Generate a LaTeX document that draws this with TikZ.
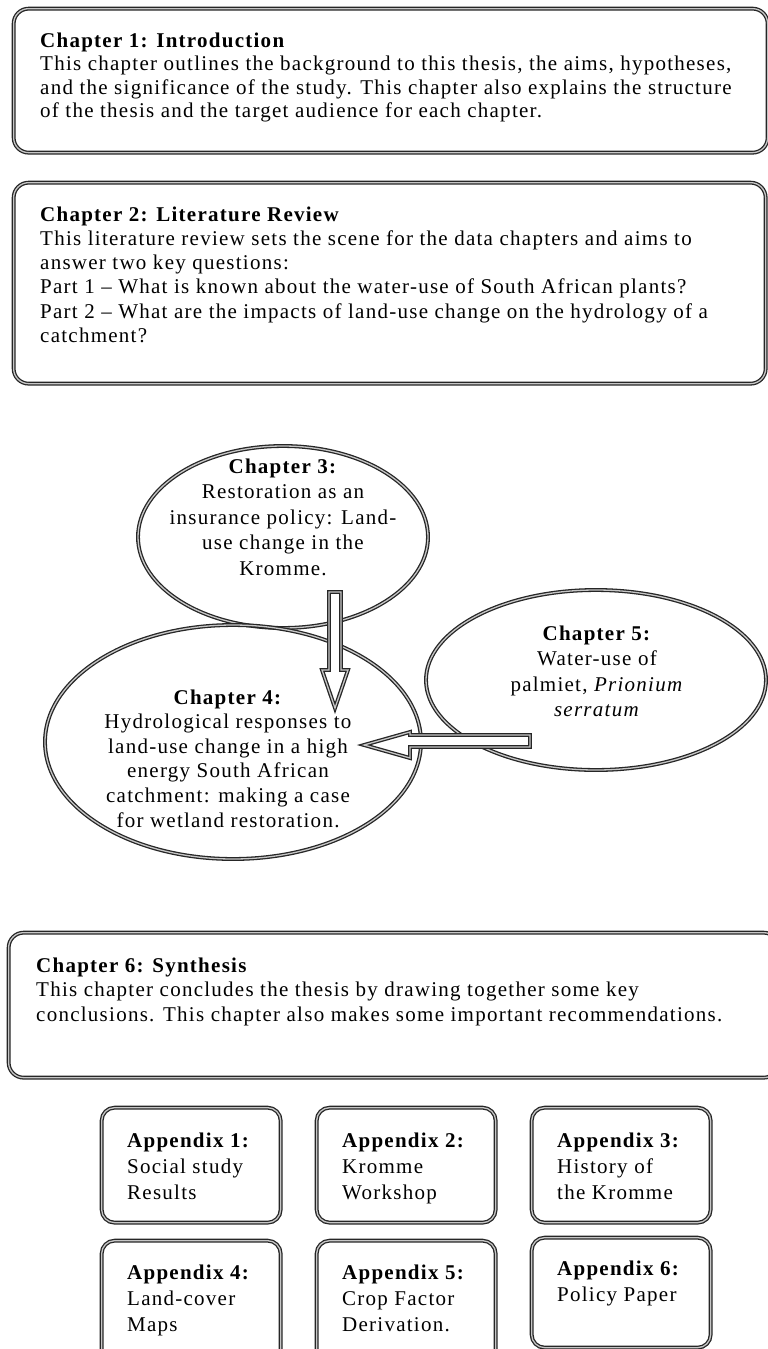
\documentclass[tikz,border=0pt]{standalone}
\usepackage{fontspec}
\setmainfont[LetterSpace=6]{Liberation Serif}
\usetikzlibrary{shapes.geometric,calc}

\begin{document}
\begin{tikzpicture}[x=1pt,y=-1pt,
    frame/.style={draw=black!85, double=gray!45, double distance=1.3pt, line width=1.3pt},
    chapbox/.style={frame, rounded corners=15pt, anchor=north west, inner sep=0pt},
    appbox/.style={frame, rounded corners=13pt, anchor=north west, inner sep=0pt,
        minimum width=179, minimum height=115},
    oval/.style={frame, ellipse, inner sep=0pt},
    % texts are placed by the baseline of their last line
    chaptext/.style={anchor=base west, inner sep=0pt, align=left,
        font=\fontsize{21}{23.5}\selectfont},
    ovaltext/.style={anchor=base, inner sep=0pt, align=center,
        font=\fontsize{21}{25.5}\selectfont},
    apptext/.style={anchor=base west, inner sep=0pt, align=left,
        font=\fontsize{21}{26}\selectfont}]
\useasboundingbox (0,0) rectangle (768,1349);
\clip (0,0) rectangle (768,1349);

% chapter 1 and 2
\node[chapbox, minimum width=754, minimum height=144] (ch1) at (13,8) {};
\node[chaptext] (ch1txt) at (40,117.5) {\textbf{Chapter 1: Introduction}\\
This chapter outlines the background to this thesis, the aims, hypotheses,\\
and the significance of the study. This chapter also explains the structure\\
of the thesis and the target audience for each chapter.};

\node[chapbox, minimum width=752, minimum height=201] (ch2) at (13,182) {};
\node[chaptext, font=\fontsize{21}{24.3}\selectfont] (ch2txt) at (40,342.5)
{\textbf{Chapter 2: Literature Review}\\
This literature review sets the scene for the data chapters and aims to\\
answer two key questions:\\
Part 1 -- What is known about the water-use of South African plants?\\
Part 2 -- What are the impacts of land-use change on the hydrology of a\\
catchment?};

% the three data chapters
\node[oval, minimum width=290, minimum height=182] (ch3) at (283,537) {};
\node[oval, minimum width=340, minimum height=180] (ch5) at (596,680) {};
\node[oval, minimum width=376, minimum height=234] (ch4) at (233,742) {};

\node[ovaltext] (ch3txt) at (283,575) {\textbf{Chapter 3:}\\ Restoration as an\\
insurance policy: Land-\\ use change in the\\ Kromme.};
\node[ovaltext] (ch5txt) at (597,716.5) {\textbf{Chapter 5:}\\ Water-use of\\
palmiet, \textit{Prionium}\\ \textit{serratum}};
\node[ovaltext, font=\fontsize{21}{24.6}\selectfont] (ch4txt) at (228,827)
{\textbf{Chapter 4:}\\ Hydrological responses to\\ land-use change in a high\\
energy South African\\ catchment: making a case\\ for wetland restoration.};

% block arrows 3 -> 4 and 5 -> 4
\coordinate (from3) at (335,592);
\coordinate (to4a) at (335,708);
\coordinate (from5) at (530,741);
\coordinate (to4b) at (364,745);
\draw[frame, fill=white, line join=miter]
    ($(from3)+(-6,0)$) -- ($(from3)+(6,0)$) -- ($(to4a)+(6,-38)$) -- ($(to4a)+(13,-38)$)
    -- (to4a) -- ($(to4a)+(-13,-38)$) -- ($(to4a)+(-6,-38)$) -- cycle;
\draw[frame, fill=white, line join=miter]
    ($(from5)+(0,-6)$) -- ($(from5)+(0,6)$) -- ($(to4b)+(46,2)$) -- ($(to4b)+(46,13)$)
    -- (to4b) -- ($(to4b)+(46,-13)$) -- ($(to4b)+(46,-10)$) -- cycle;

% chapter 6
\node[chapbox, minimum width=770, minimum height=145] (ch6) at (8,932) {};
\node[chaptext, font=\fontsize{21}{24.5}\selectfont] (ch6txt) at (36,1021)
{\textbf{Chapter 6: Synthesis}\\
This chapter concludes the thesis by drawing together some key\\
conclusions. This chapter also makes some important recommendations.};

% appendices
\node[appbox] (app1) at (101,1107) {};
\node[appbox] (app2) at (316,1107) {};
\node[appbox] (app3) at (531,1107) {};
\node[appbox, minimum height=125] (app4) at (101,1240) {};
\node[appbox, minimum height=125] (app5) at (316,1240) {};
\node[appbox, minimum height=110] (app6) at (531,1237) {};

\node[apptext] (app1txt) at (127,1199) {\textbf{Appendix 1:}\\ Social study\\ Results};
\node[apptext] (app2txt) at (342,1199) {\textbf{Appendix 2:}\\ Kromme\\ Workshop};
\node[apptext] (app3txt) at (557,1199) {\textbf{Appendix 3:}\\ History of\\ the Kromme};
\node[apptext] (app4txt) at (127,1331) {\textbf{Appendix 4:}\\ Land-cover\\ Maps};
\node[apptext] (app5txt) at (342,1331) {\textbf{Appendix 5:}\\ Crop Factor\\ Derivation.};
\node[apptext] (app6txt) at (557,1301) {\textbf{Appendix 6:}\\ Policy Paper};
\end{tikzpicture}
\end{document}
